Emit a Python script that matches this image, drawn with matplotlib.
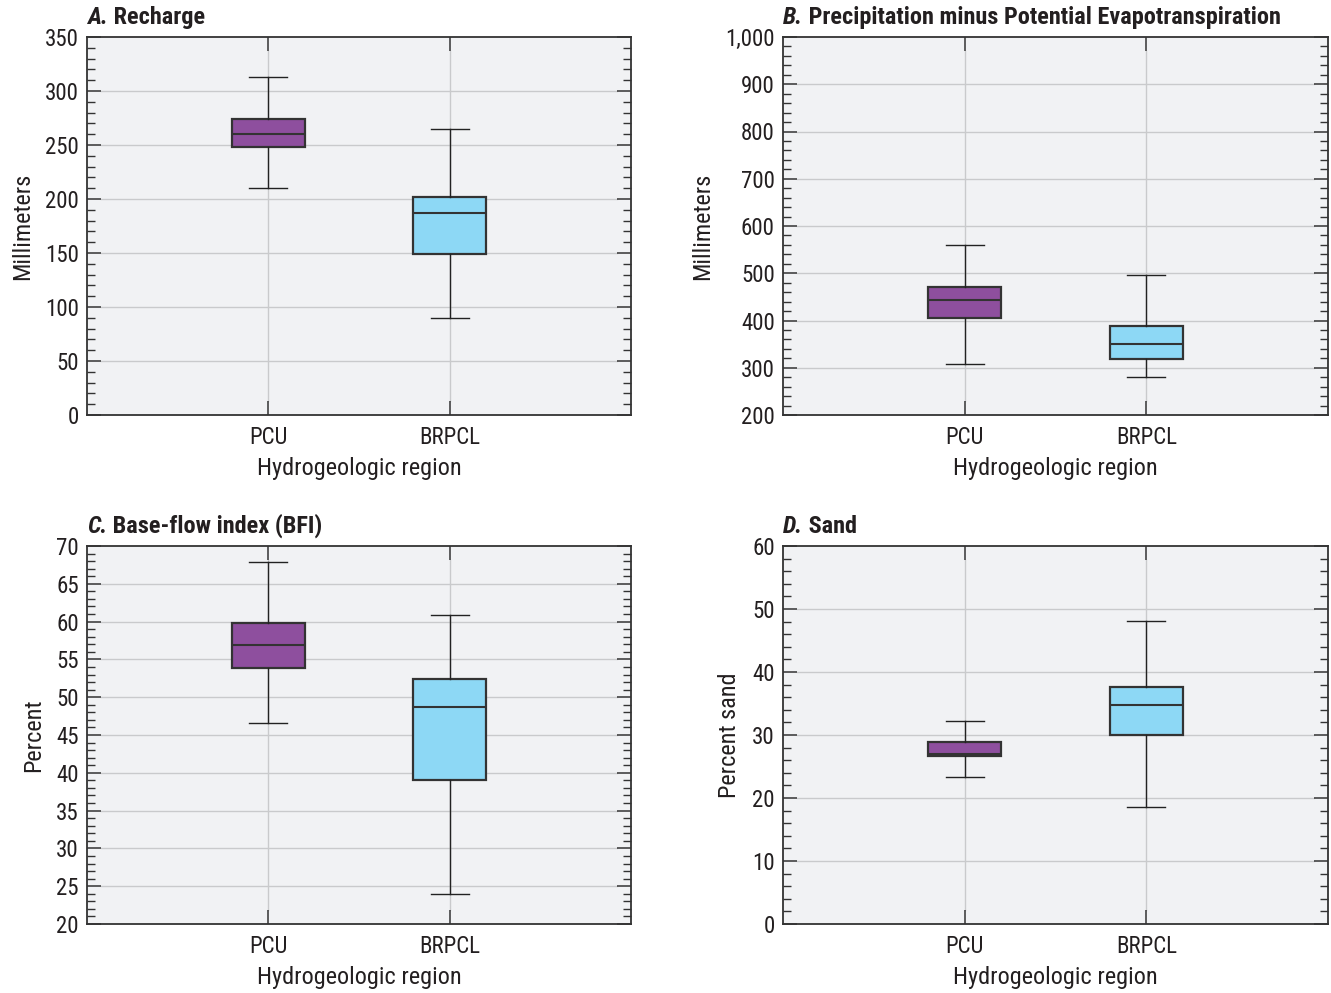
import matplotlib
matplotlib.use("Agg")
import matplotlib.pyplot as plt
from matplotlib.ticker import MultipleLocator, StrMethodFormatter

plt.rcParams['font.family'] = ['Roboto Condensed', 'DejaVu Sans']

# regions and box statistics (whisker low, Q1, median, Q3, whisker high)
regions = ['PCU', 'BRPCL']

recharge_pcu = [210, 248, 260, 274, 313]
recharge_brpcl = [90, 149, 187, 202, 265]

ppet_pcu = [308, 405, 443, 471, 560]
ppet_brpcl = [280, 318, 350, 388, 496]

bfi_pcu = [46.6, 53.9, 56.9, 59.8, 67.9]
bfi_brpcl = [24.0, 39.0, 48.7, 52.4, 60.9]

sand_pcu = [23.3, 26.7, 27.0, 28.9, 32.2]
sand_brpcl = [18.6, 30.0, 34.8, 37.6, 48.1]

colors = ['#8e4f9e', '#8dd8f5']
bg = '#f1f2f4'
grid_col = '#c9cacc'
edge = '#333333'
txt = '#231f20'

panels = [
    ('A.', 'Recharge', 'Millimeters', recharge_pcu, recharge_brpcl, (0, 350), 50, 10),
    ('B.', 'Precipitation minus Potential Evapotranspiration', 'Millimeters',
     ppet_pcu, ppet_brpcl, (200, 1000), 100, 20),
    ('C.', 'Base-flow index (BFI)', 'Percent', bfi_pcu, bfi_brpcl, (20, 70), 5, 1),
    ('D.', 'Sand', 'Percent sand', sand_pcu, sand_brpcl, (0, 60), 10, 2),
]

fig = plt.figure(figsize=(13.31, 9.93), dpi=100)
W, H = 1331, 993
boxes_px = [(87, 37, 631, 415), (783, 37, 1328, 415),
            (87, 546, 631, 924), (783, 546, 1328, 924)]

for (letter, title, ylabel, pcu, brpcl, ylim, major, minor), (x0, y0, x1, y1) in zip(panels, boxes_px):
    ax = fig.add_axes([x0 / W, 1 - y1 / H, (x1 - x0) / W, (y1 - y0) / H])
    ax.set_facecolor(bg)

    stats = []
    for name, v in zip(regions, [pcu, brpcl]):
        stats.append(dict(label=name, whislo=v[0], q1=v[1], med=v[2], q3=v[3], whishi=v[4], fliers=[]))
    bp = ax.bxp(stats, positions=[1, 2], widths=0.4, capwidths=0.21, patch_artist=True,
                showfliers=False,
                boxprops=dict(edgecolor=edge, linewidth=1.6),
                medianprops=dict(color=edge, linewidth=1.5),
                whiskerprops=dict(color='#222222', linewidth=1.0),
                capprops=dict(color='#222222', linewidth=1.0))
    for patch, c in zip(bp['boxes'], colors):
        patch.set_facecolor(c)
        patch.set_zorder(3)
    for k in ['medians', 'whiskers', 'caps']:
        for l in bp[k]:
            l.set_zorder(3)

    ax.set_xlim(0, 3)
    ax.set_ylim(*ylim)
    ax.yaxis.set_major_locator(MultipleLocator(major))
    ax.yaxis.set_minor_locator(MultipleLocator(minor))
    if ylim[1] >= 1000:
        ax.yaxis.set_major_formatter(StrMethodFormatter('{x:,.0f}'))
    ax.set_xticks([1, 2])
    ax.set_xticklabels(regions)

    # gridlines stopping short of the frame, like the original
    dx = 14 / (x1 - x0)
    dy = 14 / (y1 - y0)
    for t in ax.get_yticks():
        if ylim[0] < t < ylim[1]:
            ax.axhline(t, xmin=dx, xmax=1 - dx, color=grid_col, linewidth=1.0, zorder=1)
    for t in [1, 2]:
        ax.axvline(t, ymin=dy, ymax=1 - dy, color=grid_col, linewidth=1.0, zorder=1)

    ax.tick_params(axis='both', which='major', direction='in', length=10, width=1.1,
                   color='#333333', labelsize=16.5, labelcolor=txt)
    ax.tick_params(axis='y', which='major', left=True, right=True, pad=6)
    ax.tick_params(axis='x', which='major', bottom=True, top=True, pad=8)
    ax.tick_params(axis='y', which='minor', direction='in', length=6, width=1.0,
                   color='#333333', left=True, right=True)
    for s in ax.spines.values():
        s.set_color('#333333')
        s.set_linewidth(1.3)

    ax.set_ylabel(ylabel, fontsize=17.5, color=txt, labelpad=8)
    ax.set_xlabel('Hydrogeologic region', fontsize=17.5, color=txt, labelpad=6)

    t1 = ax.text(0.0, 1.022, letter, transform=ax.transAxes, fontsize=17.5,
                 fontweight='bold', fontstyle='italic', color=txt, va='bottom', ha='left')
    ax.annotate(' ' + title, xy=(1, 0), xycoords=t1, fontsize=17.5, fontweight='bold',
                color=txt, va='bottom', ha='left')

fig.savefig('out.png', dpi=100)
